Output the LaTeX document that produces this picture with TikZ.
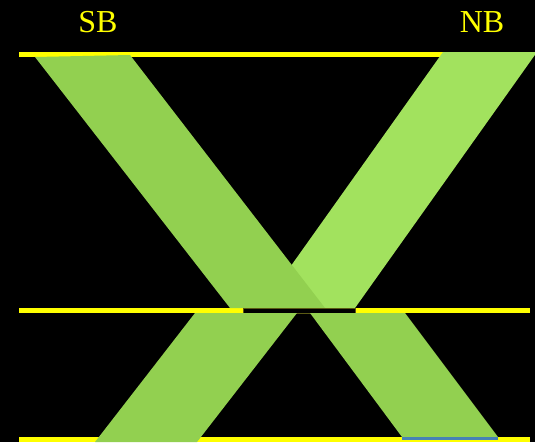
\documentclass[tikz,border=0pt]{standalone}
\usepackage{fontspec}
\setmainfont{Liberation Serif}
\usepackage{xcolor}
\usepackage{tikz}
\definecolor{sbgreen}{RGB}{146,208,80}
\definecolor{nbgreen}{RGB}{162,226,94}
\definecolor{laneyellow}{RGB}{255,255,0}
\definecolor{gapolive}{RGB}{90,90,20}
\definecolor{edgeblue}{RGB}{70,130,180}

\begin{document}
\begin{tikzpicture}[x=1pt,y=-1pt]
  \tikzstyle{lane}=[draw=laneyellow,line width=5pt]
  \tikzstyle{band}=[draw=none]
  \tikzstyle{dirlabel}=[text=laneyellow,font=\fontsize{32}{32}\selectfont,inner sep=0pt]
  \fill[black] (0,0) rectangle (535,442);
  \useasboundingbox (0,0) rectangle (535,442);
  % direction labels
  \node[dirlabel] (sb) at (98,22) {SB};
  \node[dirlabel] (nb) at (482,22) {NB};
  % stop lines
  \draw[lane] (19,54.5) -- (530,54.5);
  \draw[lane] (19,310.5) -- (530,310.5);
  \draw[lane] (19,439) -- (530,439);
  % upper crossing
  \fill[band,nbgreen] (443,52) -- (537,52) -- (355,308) -- (261,308) -- cycle;
  \fill[band,sbgreen] (35,57) -- (130,55) -- (325,308) -- (230,308) -- cycle;
  \filldraw[fill=black,draw=gapolive,line width=0.6pt] (243,308) rectangle (355,313);
  % lower crossing
  \fill[band,sbgreen] (195,313) -- (297,313) -- (197,442) -- (95,442) -- cycle;
  \fill[band,sbgreen] (310,313) -- (405,313) -- (498,437) -- (402,437) -- cycle;
  \draw[edgeblue,line width=2.5pt] (402,438.5) -- (498,438.5);
\end{tikzpicture}
\end{document}
